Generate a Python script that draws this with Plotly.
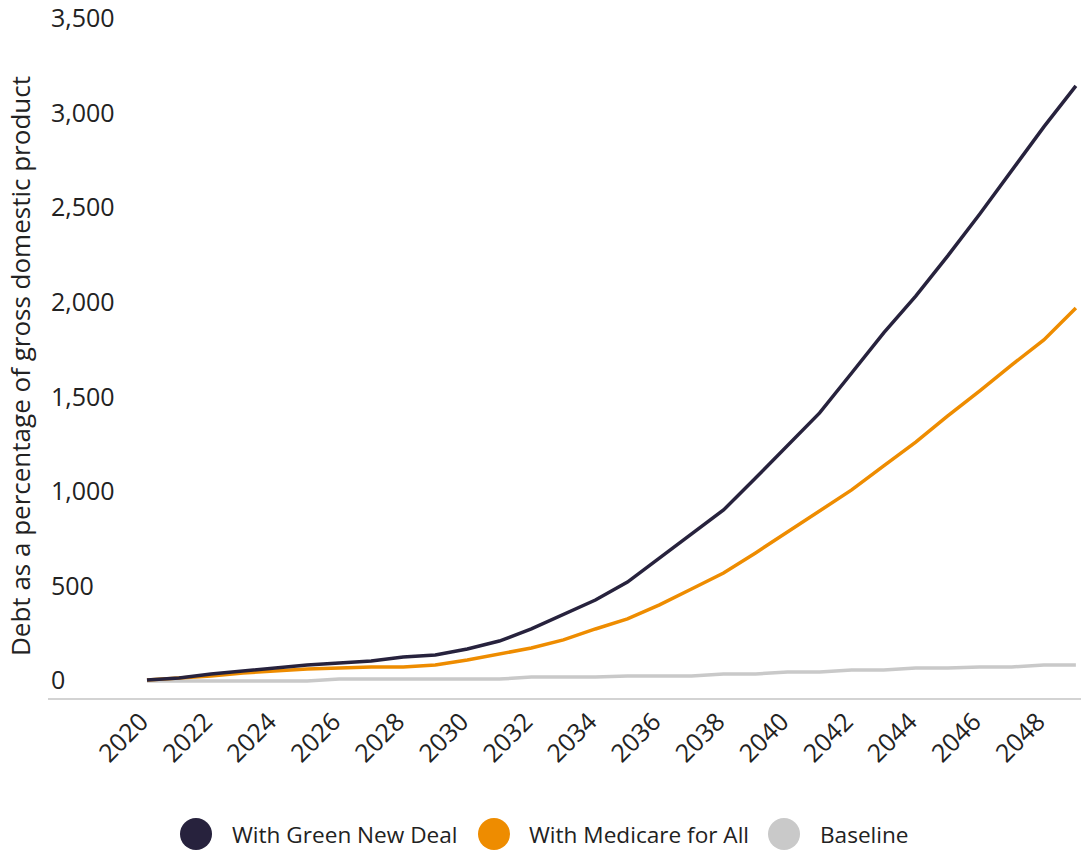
import plotly.graph_objects as go

years = list(range(2020, 2050))
green_new_deal = [95, 106, 127, 143, 159, 174, 185, 196, 217, 227,
                  259, 301, 365, 439, 518, 613, 740, 867, 994, 1163,
                  1338, 1507, 1718, 1930, 2125, 2337, 2559, 2786, 3019, 3236]
medicare_for_all = [95, 106, 116, 132, 143, 153, 159, 164, 164, 174,
                    201, 233, 264, 307, 365, 418, 492, 576, 661, 767,
                    878, 994, 1100, 1227, 1353, 1491, 1623, 1761, 1893, 2062]
baseline = [90, 90, 90, 90, 90, 90, 100, 100, 100, 100,
            100, 100, 111, 111, 111, 116, 116, 116, 127, 127,
            137, 137, 148, 148, 159, 159, 164, 164, 174, 174]

series_names = ["With Green New Deal", "With Medicare for All", "Baseline"]
series_colors = ["#27223d", "#ee8c00", "#c9c9c9"]
x_ticks = list(range(2020, 2049, 2))
y_ticks = [0, 500, 1000, 1500, 2000, 2500, 3000, 3500]
y_title = "Debt as a percentage of gross domestic product"

FONT = "Open Sans"
TXT = "#222222"

fig = go.Figure()
for name, vals, col in zip(series_names[::-1],
                           [baseline, medicare_for_all, green_new_deal],
                           series_colors[::-1]):
    fig.add_trace(go.Scatter(x=years, y=vals, mode="lines", name=name,
                             line=dict(color=col, width=3.5),
                             showlegend=False))

W, H = 1081, 852
ml, mr, mt, mb = 48, 0, 0, 154
pw, ph = W - ml - mr, H - mt - mb

def px2paper_x(px):
    return (px - ml) / pw

def px2paper_y(py):
    return (H - mb - py) / ph

legend_y = px2paper_y(834)
circle_px = [196, 494, 784]
text_px = [230, 527, 818]
shapes = []
annotations = []
for name, col, cx, tx in zip(series_names, series_colors, circle_px, text_px):
    shapes.append(dict(type="circle", xref="paper", yref="paper",
                       xsizemode="pixel", ysizemode="pixel",
                       xanchor=px2paper_x(cx), yanchor=legend_y,
                       x0=-16, x1=16, y0=-16, y1=16,
                       fillcolor=col, line=dict(width=0)))
    annotations.append(dict(text=name, xref="paper", yref="paper",
                            x=px2paper_x(tx), y=legend_y, xanchor="left",
                            yanchor="middle", showarrow=False,
                            font=dict(family=FONT, size=22.6, color=TXT)))

annotations.append(dict(text=y_title, xref="paper", yref="paper",
                        x=px2paper_x(20), y=px2paper_y(366),
                        xanchor="center", yanchor="middle", textangle=-90,
                        showarrow=False,
                        font=dict(family=FONT, size=26, color=TXT)))

fig.update_layout(
    width=W, height=H,
    margin=dict(l=ml, r=mr, t=mt, b=mb),
    paper_bgcolor="white", plot_bgcolor="white",
    font=dict(family=FONT, size=22, color=TXT),
    showlegend=False,
    shapes=shapes,
    annotations=annotations,
    xaxis=dict(range=[2016.91, 2049.16], tickvals=x_ticks, tickangle=-45,
               showgrid=False, zeroline=False, showline=True,
               linecolor="#d3d3d3", linewidth=2, ticks="",
               ticklabelshift=-6, ticklabelstandoff=-3,
               tickfont=dict(family=FONT, size=25, color=TXT)),
    yaxis=dict(range=[0, 3690], tickvals=y_ticks, tickformat=",",
               ticklabelposition="inside top", showgrid=False,
               zeroline=False, showline=False, ticks="",
               tickfont=dict(family=FONT, size=25, color=TXT)),
)

fig.write_html("out.html")
